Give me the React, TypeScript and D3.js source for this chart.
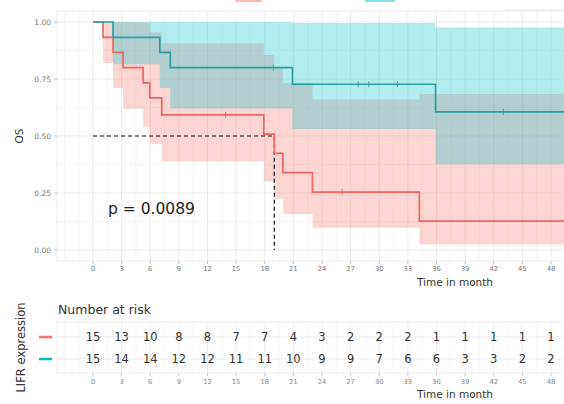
import React from "react";
import * as d3 from "d3";

const timeTicks = [0, 3, 6, 9, 12, 15, 18, 21, 24, 27, 30, 33, 36, 39, 42, 45, 48];
const survTicks = [0, 0.25, 0.5, 0.75, 1];
const survTickLabels = ["0.00", "0.25", "0.50", "0.75", "1.00"];

// LIFR low (red)
const lowTimes = [0, 1.05, 2.1, 3.15, 5.25, 5.95, 7.2, 17.9, 19.0, 19.9, 23.0, 34.2, 52];
const lowSurv = [1, 0.933, 0.867, 0.8, 0.733, 0.667, 0.593, 0.508, 0.424, 0.339, 0.254, 0.127, 0.127];
const lowLower = [1, 0.82, 0.71, 0.62, 0.54, 0.466, 0.388, 0.302, 0.225, 0.157, 0.098, 0.024, 0.024];
const lowUpper = [1, 1, 1, 1, 0.995, 0.955, 0.907, 0.855, 0.8, 0.732, 0.66, 0.684, 0.684];
const lowCensor = [13.9, 26.1];

// LIFR high (teal)
const highTimes = [0, 2.1, 7.0, 8.1, 20.9, 35.9, 52];
const highSurv = [1, 0.933, 0.867, 0.8, 0.727, 0.606, 0.606];
const highLower = [1, 0.815, 0.711, 0.621, 0.531, 0.376, 0.376];
const highUpper = [1, 1, 1, 1, 0.996, 0.976, 0.976];
const highCensor = [18.9, 27.8, 28.9, 31.9, 43.0];

const medianTime = 19.0;
const pText = "p = 0.0089";

const riskLow = [15, 13, 10, 8, 8, 7, 7, 4, 3, 2, 2, 2, 1, 1, 1, 1, 1];
const riskHigh = [15, 14, 14, 12, 12, 11, 11, 10, 9, 9, 7, 6, 6, 3, 3, 2, 2];

const RED = "#F8766D";
const TEAL = "#00BFC4";
const RED_LINE = "#ea695f";
const TEAL_LINE = "#2a9fa2";
const FONT = "DejaVu Sans, sans-serif";

export default function App() {
  const W = 564, H = 404;
  const x = d3.scaleLinear().domain([0, 48]).range([93, 551]);
  const y = d3.scaleLinear().domain([0, 1]).range([250, 22]);
  const panel = { l: 57, r: 600, t: 11, b: 261 };
  const table = { t: 322, b: 373 };
  const rowY = [337, 359];

  const line = (ts: number[], ss: number[]) =>
    d3.line<number>().x((_, i) => x(ts[i])).y((d) => y(d)).curve(d3.curveStepAfter)(ss) || "";
  const area = (ts: number[], lo: number[], hi: number[]) =>
    d3.area<number>().x((_, i) => x(ts[i])).y0((_, i) => y(lo[i])).y1((d) => y(d)).curve(d3.curveStepAfter)(hi) || "";

  const survAt = (ts: number[], ss: number[], t: number) => {
    const i = d3.bisectRight(ts, t) - 1;
    return ss[Math.max(0, i)];
  };

  const minorX: number[] = d3.range(-3, 54, 1.5);
  const minorY: number[] = d3.range(-0.125, 1.2, 0.125);

  return (
    <svg width={W} height={H} style={{ position: "absolute", left: 0, top: 0, background: "#fff" }} fontFamily={FONT}>
      <defs>
        <clipPath id="pc"><rect x={panel.l} y={panel.t} width={panel.r - panel.l} height={panel.b - panel.t} /></clipPath>
        <clipPath id="tc"><rect x={panel.l} y={table.t} width={panel.r - panel.l} height={table.b - table.t} /></clipPath>
      </defs>
      {/* top legend remnants */}
      <rect x={235} y={0} width={27} height={2} fill={RED} opacity={0.5} />
      <rect x={365} y={0} width={30} height={2} fill={TEAL} opacity={0.5} />
      <line x1={505} x2={564} y1={10} y2={10} stroke={RED} strokeOpacity={0.25} />

      {/* main panel */}
      <g clipPath="url(#pc)">
        {minorX.map((t) => (
          <line key={"vx" + t} x1={x(t)} x2={x(t)} y1={panel.t} y2={panel.b} stroke={timeTicks.includes(t) ? "#e4e4e4" : "#f1f1f1"} strokeWidth={0.7} />
        ))}
        {minorY.map((s) => (
          <line key={"hy" + s} x1={panel.l} x2={panel.r} y1={y(s)} y2={y(s)} stroke={survTicks.some((v) => Math.abs(v - s) < 1e-6) ? "#e4e4e4" : "#f1f1f1"} strokeWidth={0.7} />
        ))}
        <path d={area(lowTimes, lowLower, lowUpper)} fill={RED} fillOpacity={0.3} />
        <path d={area(highTimes, highLower, highUpper)} fill={TEAL} fillOpacity={0.3} />
        <path d={`M${x(0)},${y(0.5)}H${x(medianTime)}V${y(0)}`} fill="none" stroke="#111" strokeWidth={1.2} strokeDasharray="4,3" />
        <path d={line(lowTimes, lowSurv)} fill="none" stroke={RED_LINE} strokeWidth={1.7} />
        <path d={line(highTimes, highSurv)} fill="none" stroke={TEAL_LINE} strokeWidth={1.7} />
        {lowCensor.map((t) => (
          <line key={"lc" + t} x1={x(t)} x2={x(t)} y1={y(survAt(lowTimes, lowSurv, t)) - 3} y2={y(survAt(lowTimes, lowSurv, t)) + 3} stroke={RED_LINE} strokeWidth={0.9} />
        ))}
        {highCensor.map((t) => (
          <line key={"hc" + t} x1={x(t)} x2={x(t)} y1={y(survAt(highTimes, highSurv, t)) - 3} y2={y(survAt(highTimes, highSurv, t)) + 3} stroke={TEAL_LINE} strokeWidth={0.9} />
        ))}
      </g>
      <rect x={panel.l} y={panel.t} width={panel.r - panel.l} height={panel.b - panel.t} fill="none" stroke="#e8e8e8" strokeWidth={0.8} />
      <text x={108} y={214} fontSize={15.5} fill="#222">{pText}</text>

      {/* y axis */}
      {survTicks.map((s, i) => (
        <g key={"yt" + s}>
          <line x1={panel.l - 3} x2={panel.l} y1={y(s)} y2={y(s)} stroke="#999" strokeWidth={0.6} />
          <text x={51} y={y(s)} dy="0.35em" textAnchor="end" fontSize={7.5} fill="#777">{survTickLabels[i]}</text>
        </g>
      ))}
      <text transform={`translate(23,${y(0.5)}) rotate(-90)`} textAnchor="middle" fontSize={10.5} fill="#333">OS</text>

      {/* x axis */}
      {timeTicks.map((t) => (
        <g key={"xt" + t}>
          <line x1={x(t)} x2={x(t)} y1={panel.b} y2={panel.b + 3} stroke="#999" strokeWidth={0.6} />
          <text x={x(t)} y={panel.b + 10} textAnchor="middle" fontSize={6.8} fill="#777">{t}</text>
        </g>
      ))}
      <text x={455} y={286} textAnchor="middle" fontSize={10.5} fill="#333">Time in month</text>

      {/* risk table */}
      <text x={58} y={314} fontSize={12.5} fill="#333">Number at risk</text>
      <g clipPath="url(#tc)">
        {minorX.map((t) => (
          <line key={"tvx" + t} x1={x(t)} x2={x(t)} y1={table.t} y2={table.b} stroke={timeTicks.includes(t) ? "#e6e6e6" : "#f3f3f3"} strokeWidth={0.7} />
        ))}
        {rowY.map((r) => (
          <line key={"tr" + r} x1={panel.l} x2={panel.r} y1={r} y2={r} stroke="#e4e4e4" strokeWidth={0.7} />
        ))}
      </g>
      <rect x={panel.l} y={table.t} width={panel.r - panel.l} height={table.b - table.t} fill="none" stroke="#e8e8e8" strokeWidth={0.8} />
      {timeTicks.map((t, i) => (
        <g key={"rk" + t}>
          <text x={x(t)} y={rowY[0]} dy="0.36em" textAnchor="middle" fontSize={11.5} fill="#333">{riskLow[i]}</text>
          <text x={x(t)} y={rowY[1]} dy="0.36em" textAnchor="middle" fontSize={11.5} fill="#333">{riskHigh[i]}</text>
          <line x1={x(t)} x2={x(t)} y1={table.b} y2={table.b + 3} stroke="#aaa" strokeWidth={0.6} />
          <text x={x(t)} y={table.b + 11} textAnchor="middle" fontSize={6.8} fill="#888">{t}</text>
        </g>
      ))}
      <text x={455} y={398} textAnchor="middle" fontSize={10.5} fill="#333">Time in month</text>
      <line x1={39} x2={52} y1={rowY[0]} y2={rowY[0]} stroke={RED} strokeWidth={2.5} />
      <line x1={39} x2={52} y1={rowY[1]} y2={rowY[1]} stroke={TEAL} strokeWidth={2.5} />
      <text transform={`translate(25,${(table.t + table.b) / 2}) rotate(-90)`} textAnchor="middle" fontSize={11.5} fill="#333">LIFR expression</text>
    </svg>
  );
}
